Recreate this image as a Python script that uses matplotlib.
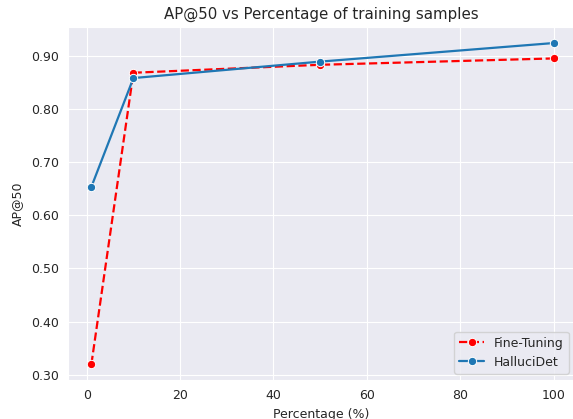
import numpy as np
import matplotlib
matplotlib.use("Agg")
import matplotlib.pyplot as plt
import seaborn as sns
from matplotlib.ticker import FormatStrFormatter

percentages = [1, 10, 50, 100]
fine_tuning = [0.320, 0.869, 0.884, 0.896]
hallucidet = [0.654, 0.859, 0.890, 0.925]

sns.set_style("darkgrid")

fig = plt.figure(figsize=(5.73, 4.19), dpi=100)
# axes runs slightly past the right edge, as in the reference
ax = fig.add_axes([68.3 / 573, 1 - 380 / 419, (575 - 68.3) / 573, (380 - 27) / 419])

ax.plot(percentages, fine_tuning, color="red", linestyle="--", marker="o",
        markersize=6, markeredgecolor="white", markeredgewidth=0.7,
        linewidth=1.6, label="Fine-Tuning")
ax.plot(percentages, hallucidet, color="#1f77b4", linestyle="-", marker="o",
        markersize=6, markeredgecolor="white", markeredgewidth=0.7,
        linewidth=1.6, label="HalluciDet")

ax.set_xlim(-3.95, 104.6)
ax.set_title("AP@50 vs Percentage of training samples", fontsize=10.8, pad=6)
ax.set_xlabel("Percentage (%)", fontsize=9, labelpad=4.5)
ax.set_ylabel("AP@50", fontsize=9, labelpad=5)
ax.tick_params(labelsize=9, pad=3)
ax.yaxis.set_major_formatter(FormatStrFormatter("%.2f"))
ax.legend(loc="lower right", fontsize=9)

fig.savefig("out.png", dpi=100)
